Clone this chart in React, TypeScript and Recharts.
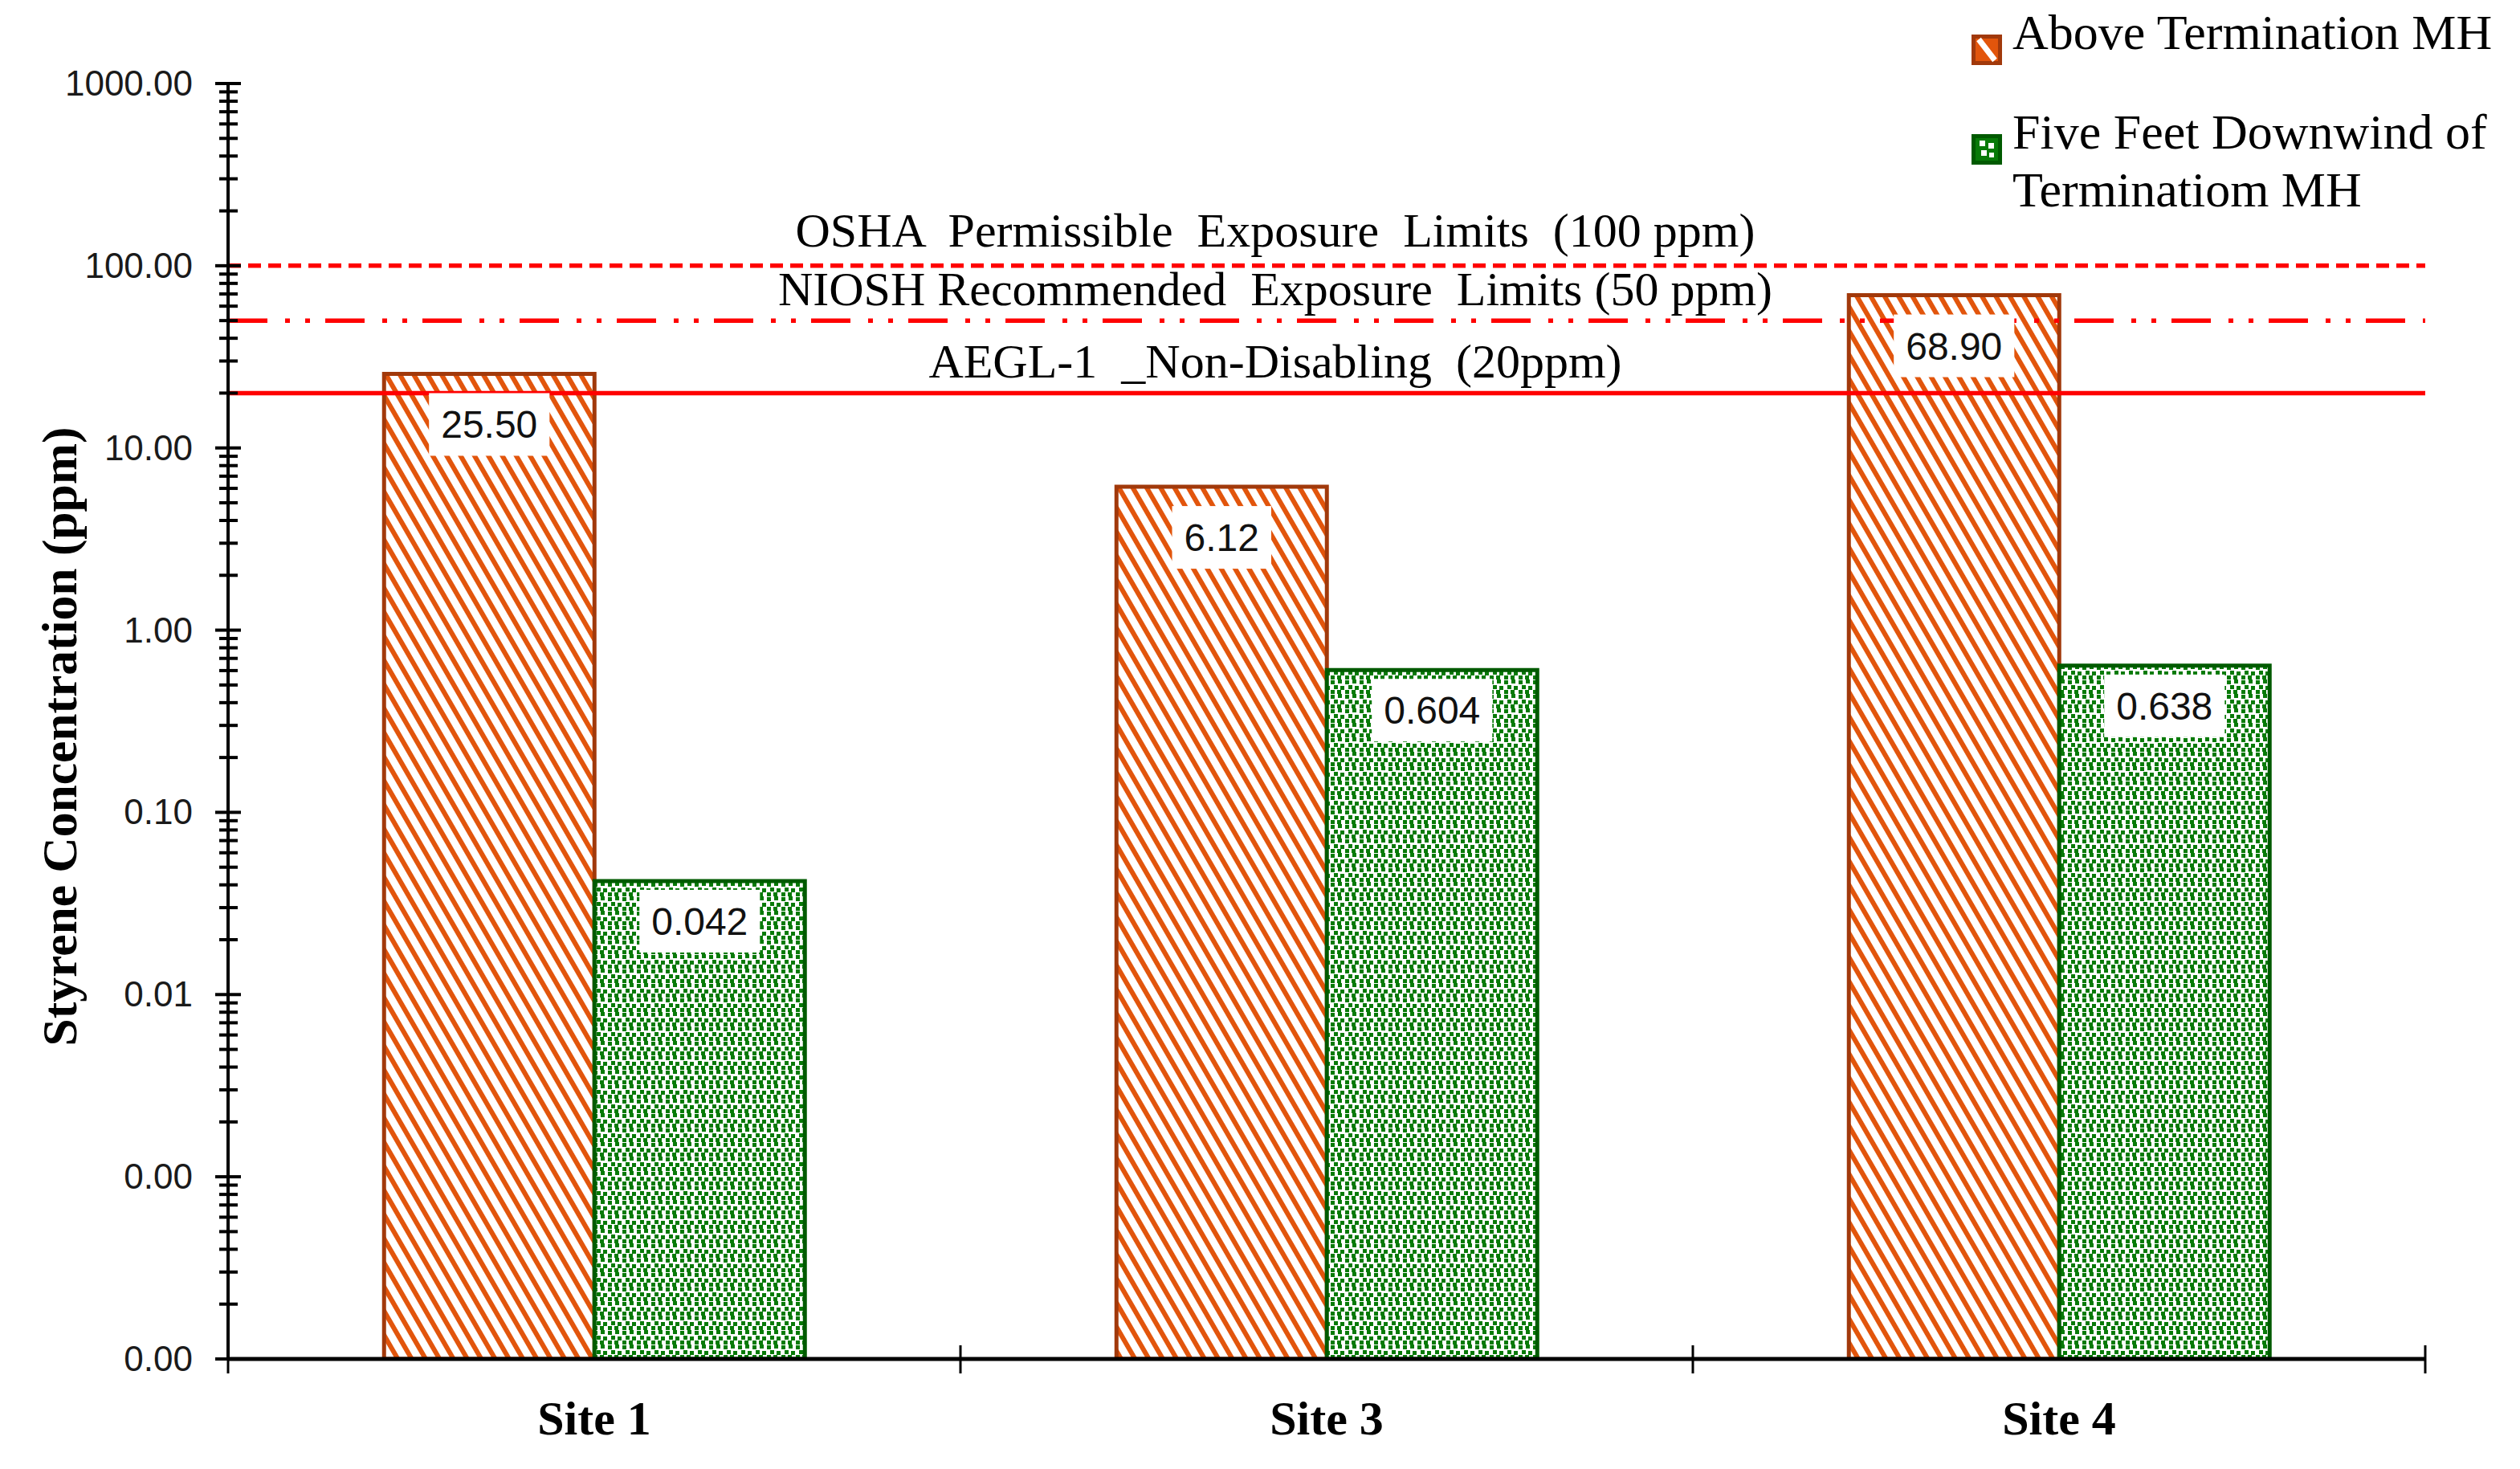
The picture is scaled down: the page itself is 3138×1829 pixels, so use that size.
import React from 'react';
import { BarChart, Bar, XAxis, YAxis, ReferenceLine, LabelList, Legend } from 'recharts';

// values
const sites = ['Site 1', 'Site 3', 'Site 4'];
const aboveTermination = [25.5, 6.12, 68.9];
const downwind = [0.042, 0.604, 0.638];
const yDecades = [0.0001, 0.001, 0.01, 0.1, 1, 10, 100, 1000];
const limitValues = [100, 50, 20];
const limitLabels = [
    'OSHA  Permissible  Exposure  Limits  (100 ppm)',
    'NIOSH Recommended  Exposure  Limits (50 ppm)',
    'AEGL-1  _Non-Disabling  (20ppm)'
];
const legendLines = [['Above Termination MH'], ['Five Feet Downwind of', 'Terminatiom MH']];

const limitStyles = [
    { dash: '16 9', gap: 24 },
    { dash: '49 22 6 19 6 19', gap: 19 },
    { dash: undefined, gap: 19 }
];

const data = sites.map((site, i) => ({ site, above: aboveTermination[i], downwind: downwind[i] }));

// major decade ticks plus the 2..9 minor ticks between them
const yTicks = yDecades.flatMap((d, i) =>
    i === yDecades.length - 1 ? [d] : [1, 2, 3, 4, 5, 6, 7, 8, 9].map((m) => +(d * m).toPrecision(3))
);

const SERIF = "'Liberation Serif', 'Times New Roman', serif";
const SANS = "'Liberation Sans', Arial, sans-serif";
const ORANGE = '#E2550C';
const ORANGE_EDGE = '#A1390B';
const GREEN = '#087A08';
const GREEN_EDGE = '#005A00';

const YTick = (props: any) => {
    const { x, y, payload } = props;
    const major = yDecades.includes(payload.value);
    return (
        <g>
            <line x1={x - (major ? 16 : 11)} x2={x + (major ? 16 : 12)} y1={y} y2={y} stroke="#000" strokeWidth={4} />
            {major && (
                <text x={x - 44} y={y} dy={15} textAnchor="end" fontFamily={SANS} fontSize={44} fill="#1a1a1a">
                    {payload.value.toFixed(2)}
                </text>
            )}
        </g>
    );
};

const XTick = (props: any) => {
    const { x, y, payload, index, visibleTicksCount } = props;
    const half = payload.offset > 0 ? payload.offset : props.width / (2 * visibleTicksCount);
    return (
        <g>
            <line x1={x - half} x2={x - half} y1={y - 17} y2={y + 18} stroke="#000" strokeWidth={3} />
            {index === visibleTicksCount - 1 && (
                <line x1={x + half} x2={x + half} y1={y - 17} y2={y + 18} stroke="#000" strokeWidth={3} />
            )}
            <text x={x} y={y} dy={94} textAnchor="middle" fontFamily={SERIF} fontWeight="bold" fontSize={60} fill="#000">
                {payload.value}
            </text>
        </g>
    );
};

const makeBarLabel = (digits: number, drop: number) => (props: any) => {
    const { x, y, width, value } = props;
    const text = Number(value).toFixed(digits);
    const boxW = (text.length - 1) * 26.7 + 13.3 + 30;
    const cx = x + width / 2;
    const cy = y + drop;
    return (
        <g>
            <rect x={cx - boxW / 2} y={cy - 39} width={boxW} height={78} fill="#fff" />
            <text x={cx} y={cy} dy={17} textAnchor="middle" fontFamily={SANS} fontSize={48} fill="#111">
                {text}
            </text>
        </g>
    );
};

const makeLimitLabel = (text: string, gap: number) => (props: any) => {
    const { viewBox } = props;
    const cx = viewBox.x + viewBox.width / 2 - 64;
    return (
        <text x={cx} y={viewBox.y - gap} textAnchor="middle" fontFamily={SERIF} fontSize={60} fill="#000" style={{ whiteSpace: 'pre' }}>
            {text}
        </text>
    );
};

const YTitle = (props: any) => {
    const { viewBox } = props;
    const cx = viewBox.x + 74;
    const cy = viewBox.y + viewBox.height / 2 + 19;
    return (
        <text x={cx} y={cy} transform={`rotate(-90, ${cx}, ${cy})`} textAnchor="middle" dominantBaseline="central"
            fontFamily={SERIF} fontWeight="bold" fontSize={61.5} fill="#000">
            Styrene Concentration (ppm)
        </text>
    );
};

const Swatch = ({ kind }: { kind: number }) =>
    kind === 0 ? (
        <svg width={38} height={38}>
            <rect x={2.5} y={2.5} width={33} height={33} fill={ORANGE} stroke={ORANGE_EDGE} strokeWidth={5} />
            <line x1={9} y1={6} x2={29} y2={32} stroke="#fff" strokeWidth={7} />
        </svg>
    ) : (
        <svg width={38} height={38}>
            <rect x={2.5} y={2.5} width={33} height={33} fill={GREEN} stroke={GREEN_EDGE} strokeWidth={5} />
            <rect x={10} y={8} width={7} height={7} fill="#fff" />
            <rect x={21} y={11} width={7} height={7} fill="#fff" />
            <rect x={12} y={20} width={7} height={7} fill="#fff" />
            <rect x={22} y={23} width={6} height={6} fill="#fff" />
        </svg>
    );

const renderLegend = () => (
    <div style={{ fontFamily: SERIF, fontSize: 62, color: '#000' }}>
        {legendLines.map((lines, i) => (
            <div key={i} style={{ display: 'flex', alignItems: 'flex-start', marginTop: i === 0 ? 0 : 52 }}>
                <div style={{ marginTop: 21, width: 38, height: 38, flex: 'none' }}>
                    <Swatch kind={i} />
                </div>
                <div style={{ marginLeft: 13, lineHeight: '72px', whiteSpace: 'nowrap' }}>
                    {lines.map((line) => (
                        <div key={line}>{line}</div>
                    ))}
                </div>
            </div>
        ))}
    </div>
);

export default function App() {
    return (
        <div style={{ position: 'absolute', left: 0, top: 0, width: 3138, height: 1829, background: '#fff' }}>
            <BarChart
                width={3138}
                height={1829}
                data={data}
                margin={{ top: 104, right: 118, bottom: 0, left: 0 }}
                barCategoryGap="21.3%"
                barGap={0}
            >
                <defs>
                    <pattern id="hatch" patternUnits="userSpaceOnUse" width={15} height={15} patternTransform="rotate(-30)">
                        <rect width={15} height={15} fill="#fff" />
                        <rect x={0} y={0} width={6} height={15} fill={ORANGE} />
                    </pattern>
                    <pattern id="dots" patternUnits="userSpaceOnUse" width={18} height={18}>
                        <rect width={18} height={18} fill="#fff" />
                        <rect x={1} y={1} width={5} height={5} fill={GREEN} />
                        <rect x={10} y={0} width={5} height={5} fill={GREEN} />
                        <rect x={5} y={7} width={5} height={5} fill={GREEN} />
                        <rect x={13} y={8} width={5} height={5} fill={GREEN} />
                        <rect x={1} y={13} width={5} height={5} fill={GREEN} />
                        <rect x={9} y={13} width={5} height={5} fill={GREEN} />
                    </pattern>
                </defs>
                <XAxis
                    dataKey="site"
                    height={137}
                    interval={0}
                    tickSize={0}
                    tickMargin={0}
                    tickLine={false}
                    axisLine={{ stroke: '#000', strokeWidth: 5 }}
                    tick={<XTick />}
                />
                <YAxis
                    scale="log"
                    domain={[0.0001, 1000]}
                    allowDataOverflow
                    ticks={yTicks}
                    interval={0}
                    width={284}
                    tickSize={0}
                    tickMargin={0}
                    tickLine={false}
                    axisLine={{ stroke: '#000', strokeWidth: 4 }}
                    tick={<YTick />}
                    label={YTitle}
                />
                <Legend
                    layout="vertical"
                    align="center"
                    verticalAlign="middle"
                    content={renderLegend}
                    wrapperStyle={{ top: 4, left: 2455, width: 683, height: 'auto' }}
                />
                <Bar
                    dataKey="above"
                    name="Above Termination MH"
                    fill="url(#hatch)"
                    stroke={ORANGE_EDGE}
                    strokeWidth={5}
                    isAnimationActive={false}
                >
                    <LabelList dataKey="above" content={makeBarLabel(2, 63)} />
                </Bar>
                <Bar
                    dataKey="downwind"
                    name="Five Feet Downwind of Terminatiom MH"
                    fill="url(#dots)"
                    stroke={GREEN_EDGE}
                    strokeWidth={5}
                    isAnimationActive={false}
                >
                    <LabelList dataKey="downwind" content={makeBarLabel(3, 50)} />
                </Bar>
                {limitValues.map((v, i) => (
                    <ReferenceLine
                        key={v}
                        y={v}
                        stroke="#FF0000"
                        strokeWidth={5.5}
                        strokeDasharray={limitStyles[i].dash}
                        label={makeLimitLabel(limitLabels[i], limitStyles[i].gap)}
                    />
                ))}
            </BarChart>
        </div>
    );
}
